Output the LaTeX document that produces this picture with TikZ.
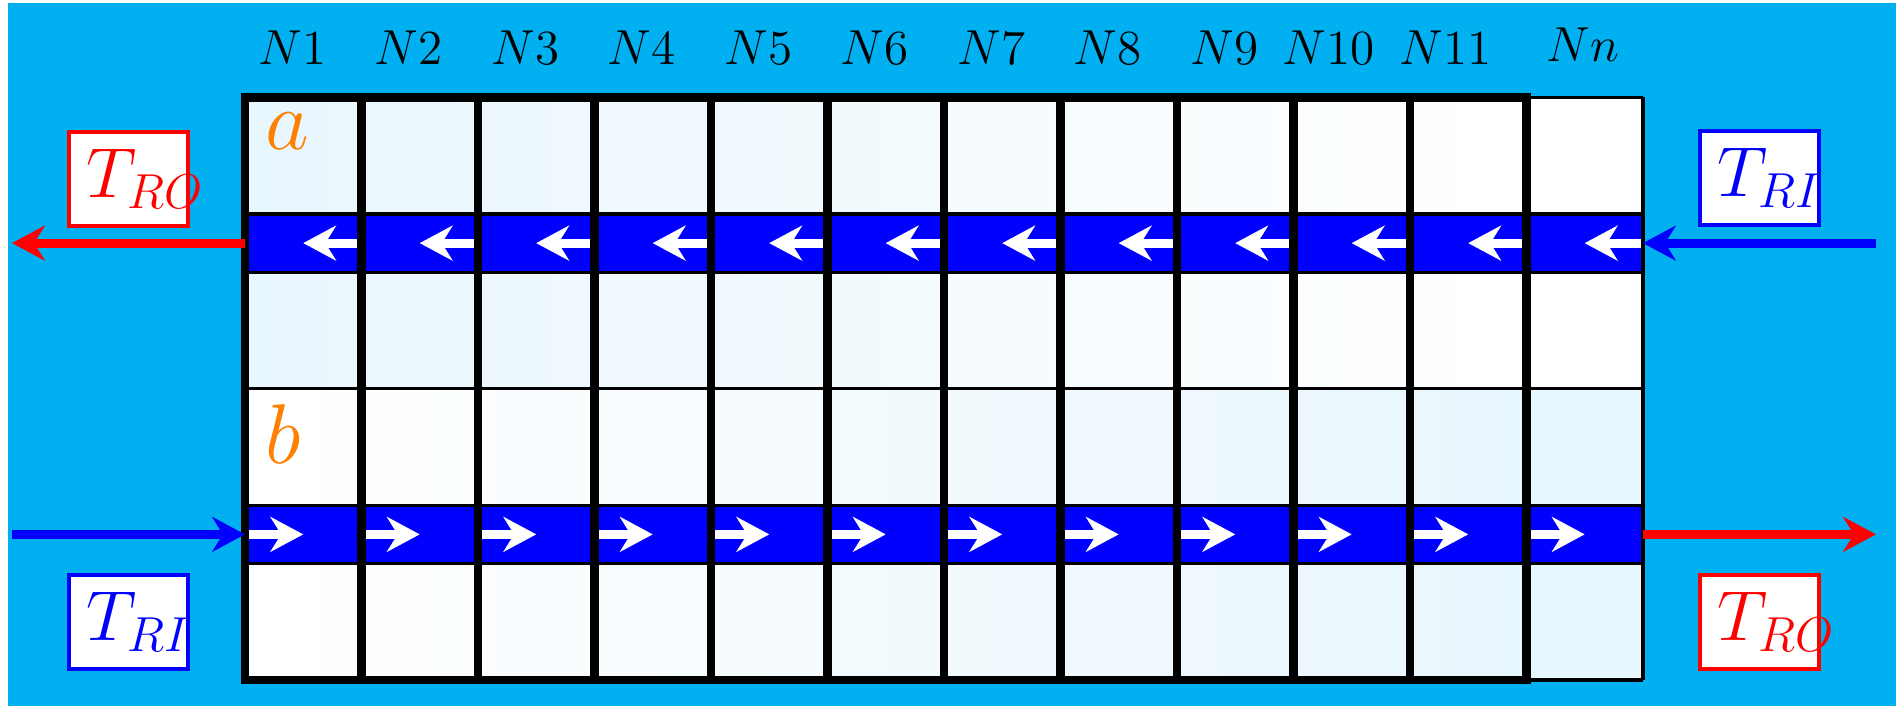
\documentclass[tikz,border=0pt]{standalone}
\usetikzlibrary{arrows.meta}
\definecolor{skyback}{RGB}{0,176,240}
\definecolor{cellcyan}{RGB}{232,246,253}
\begin{document}
\begin{tikzpicture}[
  thinline/.style={black, line width=0.75pt},
  colline/.style={black, line width=2pt},
  flow/.style={line width=2.2pt, -{Stealth[length=8pt, width=8.5pt]}},
  tbox/.style={fill=white, line width=0.9pt, text width=0.72cm, align=left, inner sep=0.15cm, minimum height=0.78cm, font=\fontsize{16.5}{20}\selectfont},
  colname/.style={inner sep=0, font=\large}
]
\useasboundingbox (-2.103,-0.223) rectangle (14.172,5.837);
\fill[skyback] (-2.034,-0.223) rectangle (14.172,5.811);
\shade[left color=cellcyan, right color=white] (0,2.5) rectangle (11,5);
\fill[white] (11,2.5) rectangle (12,5);
\shade[left color=white, right color=cellcyan] (0,0) rectangle (11,2.5);
\fill[cellcyan] (11,0) rectangle (12,2.5);
\fill[blue] (0,3.5) rectangle (12,4);
\fill[blue] (0,1) rectangle (12,1.5);
\foreach \i in {1,...,12} {
  \coordinate (ua\i) at (\i,3.75);
  \coordinate (uc\i) at (\i-0.5,3.75);
  \draw[flow, white] (ua\i) -- (uc\i);
  \coordinate (la\i) at (\i-1,1.25);
  \coordinate (lc\i) at (\i-0.5,1.25);
  \draw[flow, white] (la\i) -- (lc\i);
}
\foreach \y in {0,1,1.5,2.5,3.5,4,5} \draw[thinline] (0,\y) -- (12,\y);
\draw[thinline] (12,0) -- (12,5);
\foreach \i in {0,...,10} \draw[colline] (\i,0) rectangle (\i+1,5);
\foreach \i in {1,...,11} \node[colname, anchor=base east] (n\i) at (\i-0.296,5.28) {$N\i$};
\node[colname, anchor=base] (nn) at (11.485,5.313) {$Nn$};
\node[orange, anchor=base west, inner sep=0, font=\huge] (ra) at (0.17,4.55) {$a$};
\node[orange, anchor=base west, inner sep=0, font=\huge] (rb) at (0.17,1.86) {$b$};
\node[tbox, draw=red, text=red] (roL) at (-1,4.30) {$T_{RO}$};
\node[tbox, draw=blue, text=blue] (riR) at (13,4.31) {$T_{RI}$};
\node[tbox, draw=blue, text=blue] (riL) at (-1,0.5) {$T_{RI}$};
\node[tbox, draw=red, text=red] (roR) at (13,0.5) {$T_{RO}$};
\coordinate (edgeUL) at (0,3.75);
\coordinate (outL) at (-2.0,3.75);
\coordinate (inR) at (14.0,3.75);
\coordinate (edgeUR) at (12,3.75);
\coordinate (inL) at (-2.0,1.25);
\coordinate (edgeLL) at (0,1.25);
\coordinate (edgeLR) at (12,1.25);
\coordinate (outR) at (14.0,1.25);
\draw[flow, red] (edgeUL) -- (outL);
\draw[flow, blue] (inR) -- (edgeUR);
\draw[flow, blue] (inL) -- (edgeLL);
\draw[flow, red] (edgeLR) -- (outR);
\end{tikzpicture}
\end{document}
